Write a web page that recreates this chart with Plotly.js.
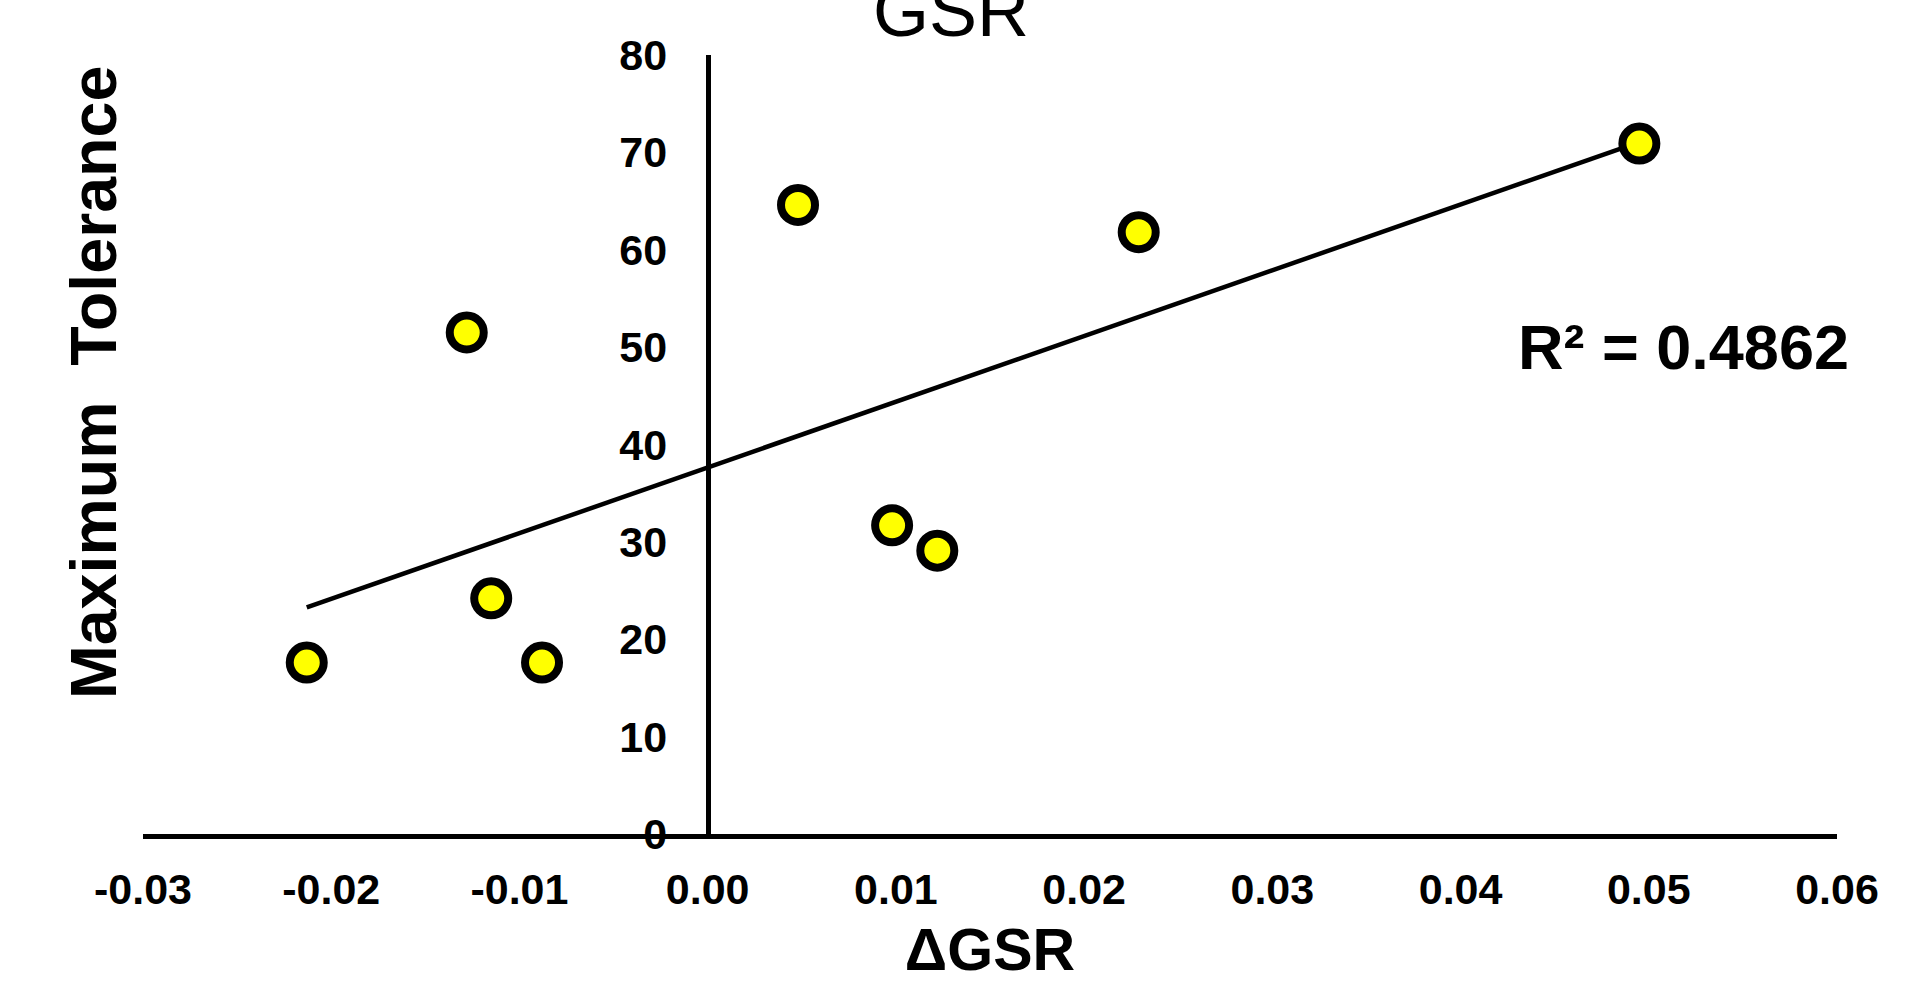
<!DOCTYPE html>
<html>
<head>
<meta charset="utf-8">
<script src="https://cdn.plot.ly/plotly-3.0.1.min.js"></script>
<style>
  html, body { margin: 0; padding: 0; background: #ffffff; }
  #chart { width: 1905px; height: 983px; }
</style>
</head>
<body>
<div id="chart"></div>
<script>
// ---- data ----
const deltaGSR = [-0.0213, -0.0128, -0.0115, -0.0088, 0.0048, 0.0098, 0.0122, 0.0229, 0.0495];
const maxTolerance = [17.6, 51.5, 24.2, 17.6, 64.6, 31.7, 29.1, 61.8, 70.9];
const xTickVals = [-0.03, -0.02, -0.01, 0.00, 0.01, 0.02, 0.03, 0.04, 0.05, 0.06];
const xTickText = ["-0.03", "-0.02", "-0.01", "0.00", "0.01", "0.02", "0.03", "0.04", "0.05", "0.06"];
const yTickVals = [0, 10, 20, 30, 40, 50, 60, 70, 80];
const chartTitle = "GSR";
const xTitle = "\u0394GSR";
const yTitle = "Maximum\u00a0 Tolerance";
const r2Label = "R\u00b2 = 0.4862";

// ---- linear trendline (least squares) ----
const n = deltaGSR.length;
const mx = deltaGSR.reduce((a, b) => a + b, 0) / n;
const my = maxTolerance.reduce((a, b) => a + b, 0) / n;
let sxy = 0, sxx = 0;
for (let i = 0; i < n; i++) {
  sxy += (deltaGSR[i] - mx) * (maxTolerance[i] - my);
  sxx += (deltaGSR[i] - mx) ** 2;
}
const slope = sxy / sxx;
const intercept = my - slope * mx;
const xMin = Math.min(...deltaGSR), xMax = Math.max(...deltaGSR);
const trendX = [xMin, xMax];
const trendY = trendX.map(v => intercept + slope * v);

const FONT = "Arial, 'Liberation Sans', Helvetica, sans-serif";

const traces = [
  {
    x: trendX, y: trendY, type: "scatter", mode: "lines",
    line: { color: "#000000", width: 4.5 },
    hoverinfo: "skip", showlegend: false, cliponaxis: false
  },
  {
    x: deltaGSR, y: maxTolerance, type: "scatter", mode: "markers",
    marker: { size: 34, color: "#FFFF00", line: { color: "#000000", width: 8 } },
    showlegend: false, cliponaxis: false
  }
];

const layout = {
  width: 1905, height: 983,
  paper_bgcolor: "#ffffff", plot_bgcolor: "#ffffff",
  margin: { l: 143, r: 68, t: 55, b: 149 },
  showlegend: false,
  font: { family: FONT, color: "#000000" },
  title: {
    text: chartTitle,
    font: { family: FONT, size: 72, color: "#000000" },
    x: 951 / 1905, xref: "container", xanchor: "center",
    y: 1 - 11 / 983, yref: "container", yanchor: "middle"
  },
  xaxis: {
    range: [-0.03, 0.06],
    tickvals: xTickVals, ticktext: xTickText,
    showgrid: false, zeroline: false,
    showline: true, linecolor: "#000000", linewidth: 5,
    ticks: "outside", ticklen: 13, tickcolor: "rgba(0,0,0,0)",
    tickfont: { family: FONT, size: 43, color: "#000000", weight: "bold" },
    title: { text: "<b>" + xTitle + "</b>", font: { family: FONT, size: 59, color: "#000000" }, standoff: 39 },
    fixedrange: true
  },
  yaxis: {
    range: [0, 80],
    tickvals: yTickVals,
    anchor: "free", position: 1 / 3,
    showgrid: false, zeroline: false,
    showline: true, linecolor: "#000000", linewidth: 5,
    ticks: "outside", ticklen: 30, tickcolor: "rgba(0,0,0,0)",
    tickfont: { family: FONT, size: 43, color: "#000000", weight: "bold" },
    fixedrange: true
  },
  annotations: [
    {
      text: "<b>" + yTitle + "</b>", textangle: -90,
      xref: "paper", yref: "paper",
      x: (94 - 143) / 1694, y: (834 - 383) / 779,
      xanchor: "center", yanchor: "middle", showarrow: false,
      font: { family: FONT, size: 64.5, color: "#000000" }
    },
    {
      text: "<b>" + r2Label + "</b>",
      xref: "paper", yref: "paper",
      x: (1683 - 143) / 1694, y: (834 - 347) / 779,
      xanchor: "center", yanchor: "middle", showarrow: false,
      font: { family: FONT, size: 63, color: "#000000" }
    }
  ]
};

Plotly.newPlot("chart", traces, layout, { displayModeBar: false, staticPlot: true });
</script>
</body>
</html>
